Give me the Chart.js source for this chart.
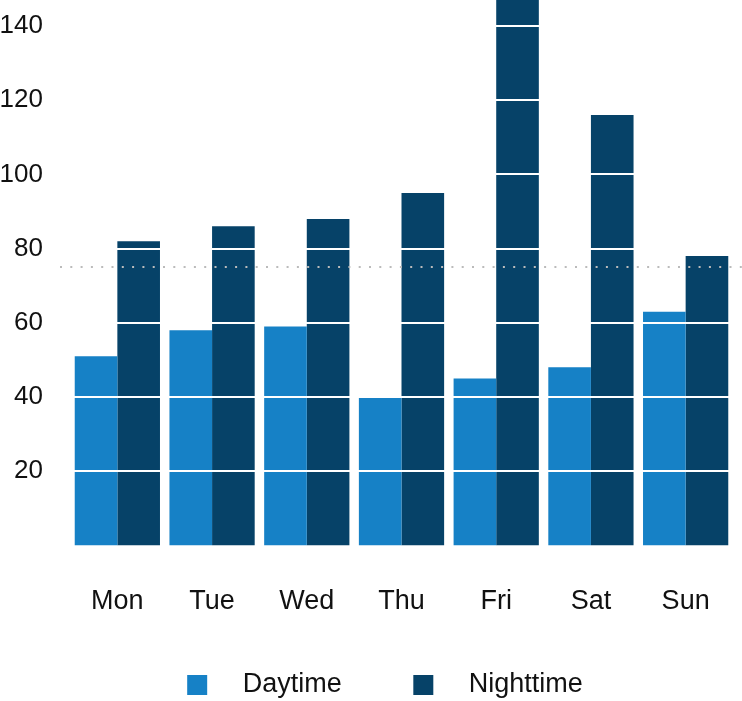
<!DOCTYPE html>
<html>
<head>
<meta charset="utf-8">
<script src="https://cdn.jsdelivr.net/npm/chart.js@4/dist/chart.umd.min.js"></script>
<style>
  html, body { margin: 0; padding: 0; background: #fff; overflow: hidden; }
  #wrap { width: 742px; height: 701px; }
</style>
</head>
<body>
<div id="wrap"><canvas id="chart"></canvas></div>
<script>
const days = ['Mon', 'Tue', 'Wed', 'Thu', 'Fri', 'Sat', 'Sun'];
const daytime = [51, 58, 59, 40, 45, 48, 63];
const nighttime = [82, 86, 88, 95, 160, 116, 78];
const yTicks = [20, 40, 60, 80, 100, 120, 140];
const target = 75;

const dayColor = '#1681c6';
const nightColor = '#064268';
const fontFamily = '"Liberation Sans", Arial, Helvetica, sans-serif';

// legend swatch: square inside a wider transparent box, so the text sits further right
function swatch(color) {
  const c = document.createElement('canvas');
  c.width = 79;
  c.height = 20;
  const g = c.getContext('2d');
  g.fillStyle = color;
  g.fillRect(37, 0, 20, 20);
  return c;
}

const targetLine = {
  id: 'targetLine',
  afterDatasetsDraw(chart) {
    const {ctx, chartArea, scales: {y}} = chart;
    const py = Math.round(y.getPixelForValue(target));
    ctx.save();
    ctx.strokeStyle = '#bbbbbb';
    ctx.lineWidth = 2;
    ctx.setLineDash([2, 8.3]);
    ctx.beginPath();
    ctx.moveTo(chartArea.left - 10, py);
    ctx.lineTo(chart.width, py);
    ctx.stroke();
    ctx.restore();
  }
};

new Chart(document.getElementById('chart'), {
  type: 'bar',
  data: {
    labels: days,
    datasets: [
      {label: 'Daytime', data: daytime, backgroundColor: dayColor},
      {label: 'Nighttime', data: nighttime, backgroundColor: nightColor}
    ]
  },
  options: {
    responsive: true,
    maintainAspectRatio: false,
    animation: false,
    categoryPercentage: 0.9,
    barPercentage: 1.0,
    layout: {padding: {top: 0, right: 9, bottom: -7.5, left: 0}},
    plugins: {
      tooltip: {enabled: false},
      legend: {
        position: 'bottom',
        labels: {
          usePointStyle: true,
          pointStyleWidth: 79,
          boxHeight: 20,
          padding: 34.6,
          color: '#111',
          font: {family: fontFamily, size: 27},
          generateLabels(chart) {
            const items = Chart.defaults.plugins.legend.labels.generateLabels(chart);
            items.forEach(it => { it.pointStyle = swatch(it.fillStyle); });
            return items;
          }
        }
      }
    },
    scales: {
      x: {
        grid: {display: false, drawTicks: false},
        border: {display: false},
        ticks: {color: '#111', padding: 40.4, font: {family: fontFamily, size: 27}},
        afterFit(scale) {
          scale.height = 91.5;
          scale.paddingLeft = 0;
          scale.paddingRight = 0;
        }
      },
      y: {
        min: 0,
        max: 147,
        grid: {color: '#fff', lineWidth: 2, drawTicks: false, z: 1},
        border: {display: false},
        ticks: {
          padding: 27,
          color: '#111',
          font: {family: fontFamily, size: 26}
        },
        afterBuildTicks(scale) { scale.ticks = yTicks.map(v => ({value: v})); },
        afterFit(scale) {
          scale.width = 70;
          scale.paddingTop = 0;
          scale.paddingBottom = 0;
        }
      }
    }
  },
  plugins: [targetLine]
});
</script>
</body>
</html>
